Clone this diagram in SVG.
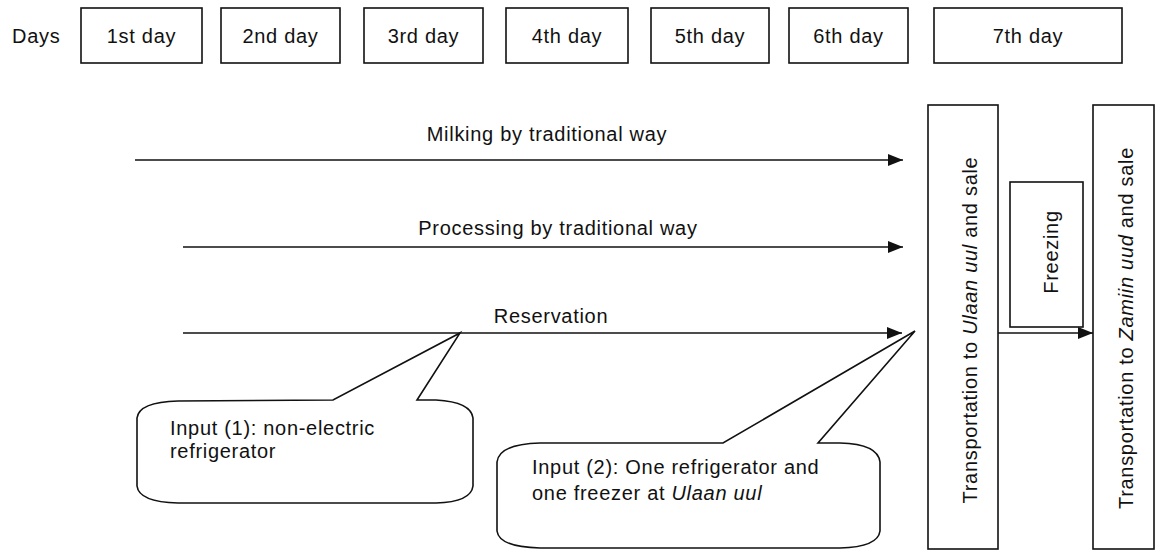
<svg xmlns="http://www.w3.org/2000/svg" width="1159" height="551" viewBox="0 0 1159 551">
<style>
text{font-family:"Liberation Sans",Arial,sans-serif;font-size:20px;fill:#111;letter-spacing:0.7px}
.box{fill:#fff;stroke:#111;stroke-width:1.6}
.ln{fill:none;stroke:#111;stroke-width:1.6}
.c{text-anchor:middle}
</style>
<defs>
<marker id="ah" markerUnits="userSpaceOnUse" markerWidth="16" markerHeight="12" refX="15" refY="6" orient="auto">
<path d="M0,0 L15,6 L0,12 Z" fill="#111"/>
</marker>
</defs>
<rect width="1159" height="551" fill="#fff"/>
<g id="header">
<text x="12" y="43">Days</text>
</g>
<g id="day1"><rect class="box" x="81" y="8" width="121" height="55"/><text class="c" x="141.5" y="43">1st day</text></g>
<g id="day2"><rect class="box" x="221" y="8" width="119" height="55"/><text class="c" x="280.5" y="43">2nd day</text></g>
<g id="day3"><rect class="box" x="364" y="8" width="119" height="55"/><text class="c" x="423.5" y="43">3rd day</text></g>
<g id="day4"><rect class="box" x="506" y="8" width="122" height="55"/><text class="c" x="567" y="43">4th day</text></g>
<g id="day5"><rect class="box" x="651" y="8" width="118" height="55"/><text class="c" x="710" y="43">5th day</text></g>
<g id="day6"><rect class="box" x="789" y="8" width="119" height="55"/><text class="c" x="848.5" y="43">6th day</text></g>
<g id="day7"><rect class="box" x="934" y="8" width="188" height="55"/><text class="c" x="1028" y="43">7th day</text></g>

<g id="connectors">
<line class="ln" x1="135" y1="160" x2="903" y2="160" marker-end="url(#ah)"/>
<line class="ln" x1="183" y1="247" x2="903" y2="247" marker-end="url(#ah)"/>
<line class="ln" x1="183" y1="333" x2="902" y2="333" marker-end="url(#ah)"/>
<line class="ln" x1="998" y1="333" x2="1093" y2="333" marker-end="url(#ah)"/>
</g>
<g id="labels">
<text class="c" x="547" y="141">Milking by traditional way</text>
<text class="c" x="558" y="235">Processing by traditional way</text>
<text class="c" x="551" y="323">Reservation</text>
</g>

<g id="ulaan">
<rect class="box" x="928" y="105" width="70" height="444"/>
<text class="c" transform="translate(977,330) rotate(-90)">Transportation to <tspan font-style="italic">Ulaan uul</tspan> and sale</text>
</g>
<g id="freezing">
<rect class="box" x="1010" y="182" width="73" height="145"/>
<text class="c" transform="translate(1058,252) rotate(-90)">Freezing</text>
</g>
<g id="zamiin">
<rect class="box" x="1093" y="105" width="61" height="444"/>
<text class="c" transform="translate(1133,328) rotate(-90)">Transportation to <tspan font-style="italic">Zamiin uud</tspan> and sale</text>
</g>

<g id="callout1">
<path class="box" d="M137,418 Q139,402 178,401 L333,400 L460,333 L417,400 L436,400 Q471,402 473,418 L473,486 Q471,502 436,503 L178,503 Q139,502 137,486 Z"/>
<text x="170" y="435">Input (1): non-electric</text>
<text x="170" y="458">refrigerator</text>
</g>
<g id="callout2">
<path class="box" d="M497,462 Q499,444 540,443 L723,443 L915,331 L818,443 L840,443 Q878,444 880,462 L880,531 Q878,547 840,548 L540,548 Q499,547 497,531 Z"/>
<text x="532" y="474">Input (2): One refrigerator and</text>
<text x="532" y="500">one freezer at <tspan font-style="italic">Ulaan uul</tspan></text>
</g>
</svg>
